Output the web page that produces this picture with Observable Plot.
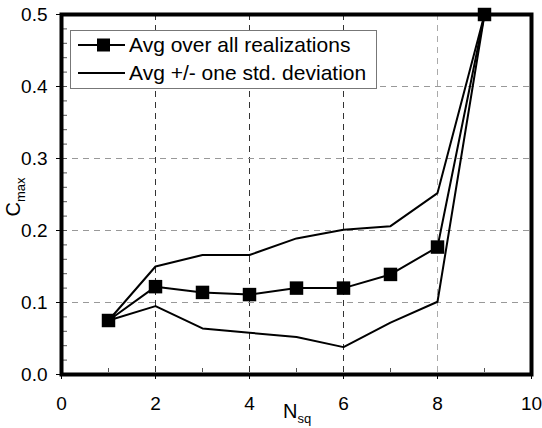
<!DOCTYPE html>
<html>
<head>
<meta charset="utf-8">
<script src="https://cdn.jsdelivr.net/npm/d3@7"></script>
<script src="https://cdn.jsdelivr.net/npm/@observablehq/plot@0.6"></script>
<style>
  body { margin: 0; background: #fff; overflow: hidden; }
  #wrap { position: relative; width: 542px; height: 428px; font-family: "Liberation Sans", Arial, Helvetica, sans-serif; color: #000; }
  #legend { position: absolute; left: 70px; top: 30px; width: 305px; height: 57px; border: 1px solid #777; background: #fff; font-size: 21px; }
  .row { position: absolute; left: 0; height: 26px; display: flex; align-items: center; white-space: nowrap; }
  .row svg { margin-left: 7px; margin-right: 4px; }
  #xlabel { position: absolute; left: 283px; top: 400px; font-size: 20px; white-space: nowrap; }
  #ylabel { position: absolute; left: 15px; top: 197px; font-size: 20px; transform: translate(-50%, -50%) rotate(-90deg); white-space: nowrap; }
  sub { font-size: 13px; vertical-align: -5px; }
</style>
</head>
<body>
<div id="wrap">
  <div id="chart"></div>
  <div id="legend">
    <div class="row" style="top:1px"><svg width="47" height="16"><line x1="0" y1="8" x2="47" y2="8" stroke="#000" stroke-width="2"/><rect x="19" y="1.5" width="13" height="13" fill="#000"/></svg>Avg over all realizations</div>
    <div class="row" style="top:29px"><svg width="47" height="16"><line x1="0" y1="8" x2="47" y2="8" stroke="#000" stroke-width="2"/></svg>Avg +/- one std. deviation</div>
  </div>
  <div id="xlabel">N<sub>sq</sub></div>
  <div id="ylabel">C<sub>max</sub></div>
</div>
<script>
const nsq = [1, 2, 3, 4, 5, 6, 7, 8, 9];
const avg = [0.075, 0.122, 0.114, 0.111, 0.120, 0.120, 0.139, 0.177, 0.5];
const upper = [0.075, 0.150, 0.166, 0.166, 0.189, 0.201, 0.206, 0.252, 0.5];
const lower = [0.075, 0.095, 0.064, 0.058, 0.052, 0.038, 0.072, 0.101, 0.5];

const xTicks = [0, 2, 4, 6, 8, 10];
const yTicks = [0, 0.1, 0.2, 0.3, 0.4, 0.5];
const xGridDark = [2, 4, 6];
const xGridLight = [8];
const yGrid = [0.1, 0.2, 0.3, 0.4];
const xMinor = [1, 3, 5, 7, 9];
const yMinor = [0.02, 0.04, 0.06, 0.08, 0.1, 0.12, 0.14, 0.16, 0.18, 0.2, 0.22, 0.24, 0.26, 0.28, 0.3, 0.32, 0.34, 0.36, 0.38, 0.4, 0.42, 0.44, 0.46, 0.48];

const rows = (ys) => nsq.map((x, i) => ({x, y: ys[i]}));

const chart = Plot.plot({
  width: 542,
  height: 428,
  marginLeft: 61,
  marginRight: 11,
  marginTop: 14,
  marginBottom: 54,
  style: {fontFamily: '"Liberation Sans", Arial, Helvetica, sans-serif', fontSize: "19px", color: "#000", background: "#fff", overflow: "visible"},
  x: {domain: [0, 10]},
  y: {domain: [0, 0.5]},
  marks: [
    Plot.ruleX(xGridDark, {stroke: "#333", strokeWidth: 1, strokeDasharray: "6,5"}),
    Plot.ruleX(xGridLight, {stroke: "#aaa", strokeWidth: 1, strokeDasharray: "6,5"}),
    Plot.ruleY(yGrid, {stroke: "#999", strokeWidth: 1, strokeDasharray: "6,5"}),
    Plot.line(rows(upper), {x: "x", y: "y", stroke: "#000", strokeWidth: 2}),
    Plot.line(rows(lower), {x: "x", y: "y", stroke: "#000", strokeWidth: 2}),
    Plot.line(rows(avg), {x: "x", y: "y", stroke: "#000", strokeWidth: 2}),
    Plot.dot(rows(avg), {x: "x", y: "y", symbol: "square", r: 7.6, fill: "#000", stroke: "none"}),
    Plot.axisY(yMinor, {tickSize: 4, dx: 6, tickFormat: () => "", label: null, stroke: "#555"}),
    Plot.axisX(xMinor, {tickSize: 4, dy: -6, tickFormat: () => "", label: null, stroke: "#555"}),
    Plot.axisY(yTicks, {tickSize: 5, tickPadding: 9, tickFormat: (d) => d.toFixed(1), label: null, fontSize: 19, fill: "#000"}),
    Plot.axisX(xTicks, {tickSize: 5, tickPadding: 17, tickFormat: (d) => String(d), label: null, fontSize: 19, fill: "#000"}),
    Plot.frame({stroke: "#000", strokeWidth: 4})
  ]
});
document.getElementById("chart").appendChild(chart);
</script>
</body>
</html>
